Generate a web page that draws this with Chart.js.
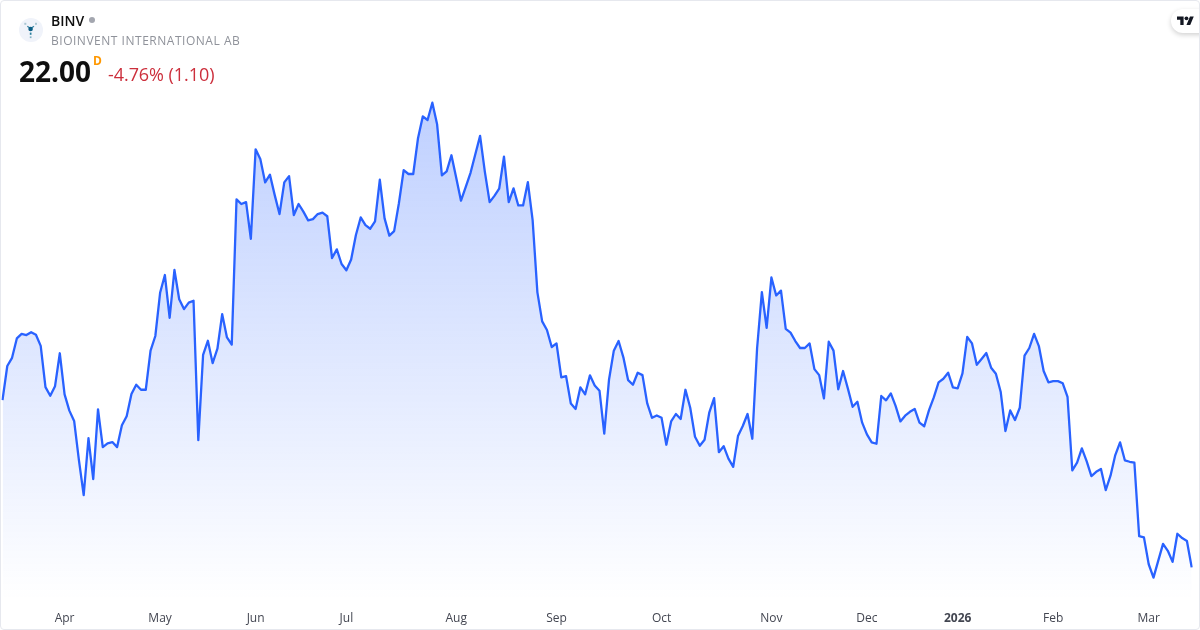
<!DOCTYPE html>
<html>
<head>
<meta charset="utf-8">
<script src="https://cdn.jsdelivr.net/npm/chart.js@4"></script>
<style>
    html, body { margin: 0; padding: 0; background: #fff; }
    #card { position: relative; width: 1200px; height: 630px; overflow: hidden; font-family: "Open Sans", sans-serif; }
    #frame { position: absolute; left: 0; top: 0; width: 1198px; height: 628px; border: 1px solid #e6e8ee; border-radius: 4px; pointer-events: none; }
    #priceChart { position: absolute; left: 0; top: 0; }
    .txt { position: absolute; white-space: nowrap; }
    #symbol { left: 51px; top: 12px; font-size: 14px; line-height: 18px; font-weight: 600; color: #0f0f0f; }
    #status { left: 89px; top: 17px; width: 6px; height: 6px; border-radius: 50%; background: #a3a6af; }
    #company { left: 51px; top: 32px; font-size: 12px; line-height: 17px; letter-spacing: 0.52px; color: #8f929a; }
    #price { left: 19px; top: 52px; font-size: 28px; line-height: 38px; font-weight: 700; color: #0f0f0f; }
    #session { left: 93px; top: 53px; font-size: 12px; line-height: 16px; font-weight: 700; color: #ff9800; }
    #change { left: 108px; top: 62px; font-size: 18px; line-height: 25px; letter-spacing: -0.06px; color: #cc2f3c; }
    #logo { position: absolute; left: 19px; top: 18px; }
    #tvBadge { position: absolute; left: 1171px; top: 9px; width: 44px; height: 24px; border-radius: 12px; background: #fff; box-shadow: 0 2px 5px rgba(0,0,0,0.18); }
    #tvLogo { position: absolute; left: 1177px; top: 15.7px; }
</style>
</head>
<body>
<div id="card">
    <canvas id="priceChart" width="1200" height="630"></canvas>
    <svg id="logo" width="24" height="24" viewBox="0 0 24 24">
        <circle cx="12" cy="12" r="12" fill="#f0f3fa"/>
        <path d="M8.3 8.2L11.6 10.6M15 8.2L11.6 10.6" stroke="#3d86a3" stroke-width="1.2"/>
        <rect x="5.3" y="4.8" width="2" height="2" fill="#a9c6d3"/>
        <rect x="16" y="4.8" width="2" height="2" fill="#a9c6d3"/>
        <circle cx="11.6" cy="11" r="2.3" fill="#0b5f86"/>
        <rect x="10.8" y="14.6" width="1.7" height="2.2" fill="#2a7f9e"/>
        <rect x="10.8" y="18.4" width="1.7" height="1.7" fill="#7fb0c4"/>
    </svg>
    <div class="txt" id="symbol">BINV</div>
    <div class="txt" id="status"></div>
    <div class="txt" id="company">BIOINVENT INTERNATIONAL AB</div>
    <div class="txt" id="price">22.00</div>
    <div class="txt" id="session">D</div>
    <div class="txt" id="change">-4.76% (1.10)</div>
    <div id="tvBadge"></div>
    <svg id="tvLogo" width="17" height="9.3" viewBox="0 4 36 18">
        <path d="M14 22H7V11H0V4h14v18zM28 22h-8l7.5-18h8L28 22z" fill="#131722"/>
        <circle cx="20" cy="8" r="4" fill="#131722"/>
    </svg>
    <div id="frame"></div>
</div>
<script>
    // daily closes, oldest first
    var prices = [
        28.97, 30.39, 30.73, 31.54, 31.73, 31.68, 31.80, 31.69, 31.23, 29.51,
        29.15, 29.55, 30.92, 29.21, 28.53, 28.10, 26.47, 25.01, 27.38, 25.68,
        28.58, 27.01, 27.17, 27.22, 27.01, 27.92, 28.30, 29.22, 29.61, 29.40,
        29.40, 31.03, 31.64, 33.44, 34.18, 32.40, 34.39, 33.17, 32.76, 33.03,
        33.11, 27.30, 30.85, 31.44, 30.51, 31.11, 32.55, 31.58, 31.28, 37.33,
        37.14, 37.22, 35.69, 39.42, 39.00, 38.04, 38.36, 37.51, 36.72, 38.04,
        38.30, 36.68, 37.14, 36.82, 36.46, 36.51, 36.72, 36.78, 36.63, 34.89,
        35.25, 34.64, 34.38, 34.83, 35.85, 36.58, 36.26, 36.11, 36.42, 38.15,
        36.54, 35.82, 36.01, 37.17, 38.55, 38.39, 38.39, 39.88, 40.79, 40.64,
        41.36, 40.46, 38.33, 38.50, 39.17, 38.23, 37.28, 37.85, 38.44, 39.21,
        39.98, 38.48, 37.22, 37.48, 37.78, 39.11, 37.22, 37.79, 37.08, 37.08,
        38.05, 36.47, 33.46, 32.25, 31.89, 31.18, 31.33, 29.92, 29.97, 28.83,
        28.60, 29.50, 29.21, 30.00, 29.58, 29.36, 27.57, 29.83, 31.03, 31.43,
        30.75, 29.80, 29.61, 30.11, 30.01, 28.83, 28.23, 28.33, 28.23, 27.11,
        28.08, 28.39, 28.18, 29.40, 28.65, 27.44, 27.07, 27.32, 28.46, 29.05,
        26.80, 27.05, 26.53, 26.19, 27.47, 27.89, 28.39, 27.36, 31.13, 33.47,
        31.98, 34.08, 33.33, 33.53, 31.94, 31.78, 31.43, 31.14, 31.14, 31.33,
        30.26, 30.01, 29.04, 31.40, 31.03, 29.42, 30.18, 29.46, 28.69, 28.90,
        28.03, 27.54, 27.21, 27.15, 29.14, 28.96, 29.25, 28.73, 28.08, 28.32,
        28.48, 28.60, 28.03, 27.88, 28.55, 29.08, 29.71, 29.86, 30.11, 29.50,
        29.46, 30.08, 31.60, 31.33, 30.44, 30.68, 30.93, 30.32, 30.07, 29.32,
        27.68, 28.54, 28.14, 28.65, 30.82, 31.14, 31.73, 31.22, 30.18, 29.71,
        29.76, 29.76, 29.67, 29.10, 26.04, 26.36, 26.96, 26.43, 25.80, 25.98,
        26.10, 25.22, 25.82, 26.68, 27.21, 26.46, 26.40, 26.36, 23.30, 23.25,
        22.13, 21.57, 22.28, 22.98, 22.69, 22.23, 23.40, 23.22, 23.10, 22.00
    ];
    var tickLabels = ['Apr', 'May', 'Jun', 'Jul', 'Aug', 'Sep', 'Oct', 'Nov', 'Dec', '2026', 'Feb', 'Mar'];
    var tickPoints = [13, 33, 53, 72, 95, 116, 138, 161, 181, 200, 220, 240];
    var yMin = 20.64;
    var yMax = 45.64;

    var categories = [];
    for (var i = 0; i < prices.length; i++) {
        var at = tickPoints.indexOf(i);
        categories.push(at >= 0 ? tickLabels[at] : '');
    }

    function areaFill(context) {
        var area = context.chart.chartArea;
        if (!area) {
            return 'rgba(41,98,255,0.2)';
        }
        var gradient = context.chart.ctx.createLinearGradient(0, 100, 0, area.bottom);
        gradient.addColorStop(0, 'rgba(41,98,255,0.3)');
        gradient.addColorStop(1, 'rgba(41,98,255,0)');
        return gradient;
    }

    new Chart(document.getElementById('priceChart').getContext('2d'), {
        type: 'line',
        data: {
            labels: categories,
            datasets: [{
                data: prices,
                borderColor: '#2962ff',
                borderWidth: 2.3,
                backgroundColor: areaFill,
                fill: 'start',
                tension: 0,
                pointRadius: 0,
                borderJoinStyle: 'round'
            }]
        },
        options: {
            responsive: false,
            animation: false,
            layout: { padding: { left: 2.5, right: 8.3, top: 0, bottom: 0 } },
            plugins: { legend: { display: false }, tooltip: { enabled: false } },
            scales: {
                x: {
                    grid: { display: false, drawTicks: false },
                    border: { display: false },
                    afterFit: function (scale) {
                        scale.height = 30;
                        scale.paddingLeft = 0;
                        scale.paddingRight = 0;
                    },
                    ticks: {
                        autoSkip: false,
                        maxRotation: 0,
                        minRotation: 0,
                        padding: 11,
                        color: '#434651',
                        font: function (context) {
                            var bold = context.tick && context.tick.label === '2026';
                            return { family: '"Open Sans", sans-serif', size: 12, weight: bold ? '700' : '400' };
                        }
                    }
                },
                y: {
                    display: false,
                    min: yMin,
                    max: yMax
                }
            }
        }
    });
</script>
</body>
</html>
